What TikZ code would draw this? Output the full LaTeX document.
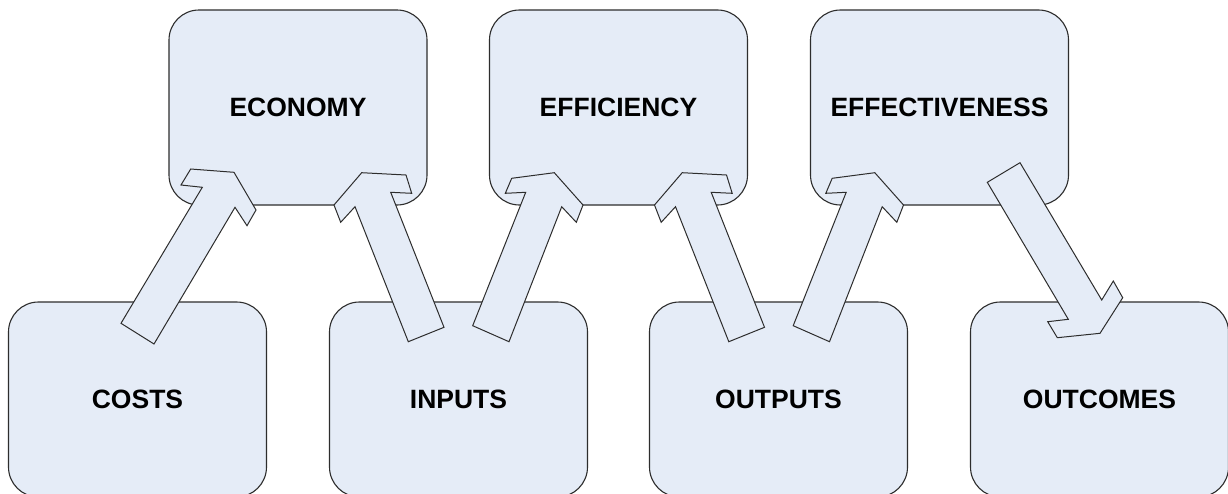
\documentclass[tikz,border=0pt]{standalone}
\usepackage{fontspec}
\setmainfont{Liberation Sans}
\definecolor{boxfill}{RGB}{229,236,247}
\definecolor{edge}{RGB}{45,45,45}
\tikzset{
  stage/.style={draw=edge, line width=1.1pt, fill=boxfill, rounded corners=30pt,
    minimum width=258pt, minimum height=195pt, inner sep=0pt,
    font=\bfseries\fontsize{26.5}{30}\selectfont},
  blockarrow/.style={draw=edge, line width=1pt, fill=boxfill, line join=miter}
}
\begin{document}
\begin{tikzpicture}[x=1pt, y=-1pt]
  \path[use as bounding box, fill=white] (0,0) rectangle (1228,493);
  \clip (0,0) rectangle (1228,493);

  % upper row of measures
  \node[stage] (economy)       at (298,107.5)   {ECONOMY};
  \node[stage] (efficiency)    at (618.5,107.5) {EFFICIENCY};
  \node[stage] (effectiveness) at (939.5,107.5) {EFFECTIVENESS};

  % lower row of stages
  \node[stage] (costs)    at (137.5,399.5)  {COSTS};
  \node[stage] (inputs)   at (458.5,399.5)  {INPUTS};
  \node[stage] (outputs)  at (778.5,399.5)  {OUTPUTS};
  \node[stage] (outcomes) at (1099.5,399.5) {OUTCOMES};

  % costs -> economy
  \draw[blockarrow] (121,323.3) -- (202.3,187.3) -- (181,185) -- (190.7,169)
    -- (234,172.3) -- (256,210) -- (247,225.7) -- (235,207.3) -- (154,344) -- cycle;

  % inputs -> economy
  \draw[blockarrow] (408.3,341.7) -- (355,206.7) -- (340.7,222.3) -- (334,205)
    -- (361.7,172.7) -- (406,175) -- (411.7,193.3) -- (390.7,192.3) -- (444,327.3) -- cycle;

  % inputs -> efficiency
  \draw[blockarrow] (472.7,325.7) -- (525.7,192.3) -- (505.3,193.3) -- (511.7,178.3)
    -- (554.3,172.7) -- (583,205) -- (576.3,222.3) -- (561.7,206.7) -- (509,341.7) -- cycle;

  % outputs -> efficiency
  \begin{scope}[xshift=320.5pt]
    \draw[blockarrow] (408.3,341.7) -- (355,206.7) -- (340.7,222.3) -- (334,205)
      -- (361.7,172.7) -- (406,175) -- (411.7,193.3) -- (390.7,192.3) -- (444,327.3) -- cycle;
  \end{scope}

  % outputs -> effectiveness
  \begin{scope}[xshift=320.5pt]
    \draw[blockarrow] (472.7,325.7) -- (525.7,192.3) -- (505.3,193.3) -- (511.7,178.3)
      -- (554.3,172.7) -- (583,205) -- (576.3,222.3) -- (561.7,206.7) -- (509,341.7) -- cycle;
  \end{scope}

  % effectiveness -> outcomes
  \draw[blockarrow] (1020,162.7) -- (1101.7,300) -- (1113.3,281) -- (1122.7,297.7)
    -- (1100,333.3) -- (1057.3,337.7) -- (1047.7,321.7) -- (1068.3,319.3) -- (987.3,182.3) -- cycle;
\end{tikzpicture}
\end{document}
